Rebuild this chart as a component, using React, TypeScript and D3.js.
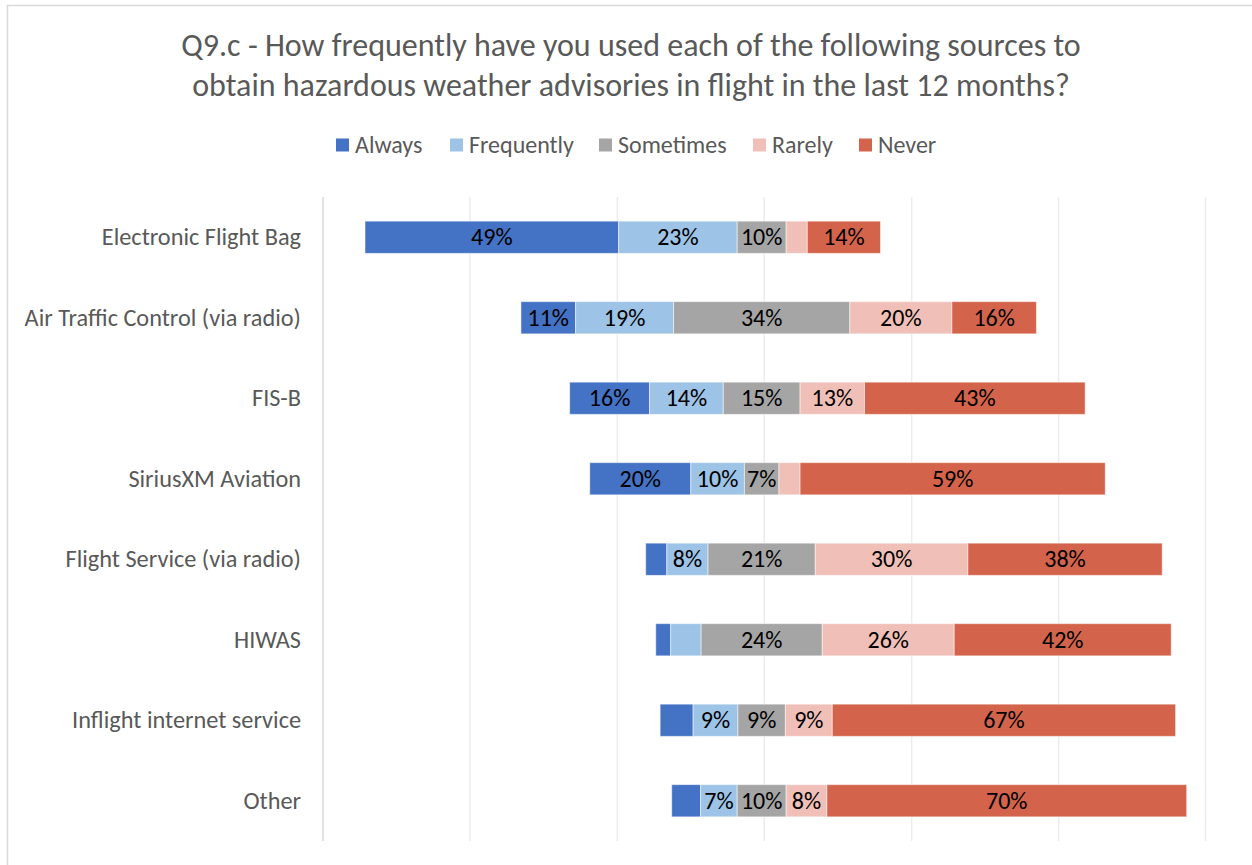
import React from 'react';
import * as d3 from 'd3';

const CATEGORIES = [
  'Electronic Flight Bag',
  'Air Traffic Control (via radio)',
  'FIS-B',
  'SiriusXM Aviation',
  'Flight Service (via radio)',
  'HIWAS',
  'Inflight internet service',
  'Other',
];
const SERIES = ['Always', 'Frequently', 'Sometimes', 'Rarely', 'Never'];
const COLORS = ['#4472C4', '#9DC3E6', '#A5A5A5', '#F0C0B8', '#D3644B'];
const ALWAYS = [49.2, 10.6, 15.5, 19.6, 4.1, 2.9, 6.4, 5.6];
const FREQUENTLY = [23.0, 19.0, 14.3, 10.4, 8.0, 5.9, 8.7, 7.1];
const SOMETIMES = [9.5, 34.2, 14.9, 6.7, 20.8, 23.5, 9.2, 9.5];
const RARELY = [4.1, 19.8, 12.5, 4.1, 29.6, 25.6, 9.1, 7.9];
const NEVER = [14.2, 16.4, 42.8, 59.2, 37.7, 42.1, 66.6, 69.8];
const GRID_TICKS = [-85.1, -56.6, -28.0, 0.5, 29.1, 57.6, 86.1];
const TITLE_LINES = [
  'Q9.c - How frequently have you used each of the following sources to',
  'obtain hazardous weather advisories in flight in the last 12 months?',
];

const FONT = 'Carlito, Lato, "Open Sans", sans-serif';

export default function App() {
  const W = 1252;
  const H = 865;
  const plot = { left: 323, right: 1205.5, top: 197, bottom: 841 };

  const x = d3
    .scaleLinear()
    .domain([GRID_TICKS[0], GRID_TICKS[GRID_TICKS.length - 1]])
    .range([plot.left, plot.right]);
  const y = d3
    .scaleBand<string>()
    .domain(CATEGORIES)
    .range([plot.top, plot.bottom])
    .paddingInner(0.6)
    .paddingOuter(0.3);

  const seriesVals = [ALWAYS, FREQUENTLY, SOMETIMES, RARELY, NEVER];

  const rows = CATEGORIES.map((cat, i) => {
    const vals = seriesVals.map((s) => s[i]);
    let start = -(vals[0] + vals[1] + vals[2] / 2);
    const segs = vals.map((v, k) => {
      const seg = { k, v, x0: start, x1: start + v };
      start += v;
      return seg;
    });
    return { cat, segs };
  });

  const legendX = [336, 450, 599, 753, 859];

  return (
    <svg
      width={W}
      height={H}
      style={{ position: 'absolute', left: 0, top: 0, background: '#fff' }}
      fontFamily={FONT}
    >
      <rect x={7.5} y={5.5} width={1400} height={1000} fill="#fff" stroke="#D9D9D9" strokeWidth={1.5} />
      {TITLE_LINES.map((t, i) => (
        <text key={i} x={631} y={56 + i * 40} textAnchor="middle" fontSize={32} fill="#595959">
          {t}
        </text>
      ))}
      {SERIES.map((s, k) => (
        <g key={s} transform={`translate(${legendX[k]},0)`}>
          <rect x={0} y={138.5} width={13} height={13} fill={COLORS[k]} />
          <text x={19} y={152.5} fontSize={24} fill="#595959">
            {s}
          </text>
        </g>
      ))}
      {GRID_TICKS.map((t, i) => (
        <line
          key={i}
          x1={x(t)}
          x2={x(t)}
          y1={plot.top}
          y2={plot.bottom}
          stroke={i === 0 ? '#D9D9D9' : '#ECECEC'}
          strokeWidth={1.5}
        />
      ))}
      {rows.map((r) => {
        const y0 = y(r.cat)!;
        const bh = y.bandwidth();
        return (
          <g key={r.cat}>
            <text x={301} y={y0 + bh / 2 + 8} textAnchor="end" fontSize={24.3} fill="#595959">
              {r.cat}
            </text>
            {r.segs.map((s) => (
              <rect
                key={s.k}
                x={x(s.x0)}
                y={y0}
                width={x(s.x1) - x(s.x0)}
                height={bh}
                fill={COLORS[s.k]}
                stroke="#fff"
                strokeOpacity={0.5}
                strokeWidth={1}
              />
            ))}
            {r.segs
              .filter((s) => Math.round(s.v) >= 7)
              .map((s) => (
                <text
                  key={'l' + s.k}
                  x={(x(s.x0) + x(s.x1)) / 2}
                  y={y0 + bh / 2 + 8}
                  textAnchor="middle"
                  fontSize={24}
                  fill="#000"
                >
                  {Math.round(s.v) + '%'}
                </text>
              ))}
          </g>
        );
      })}
    </svg>
  );
}
